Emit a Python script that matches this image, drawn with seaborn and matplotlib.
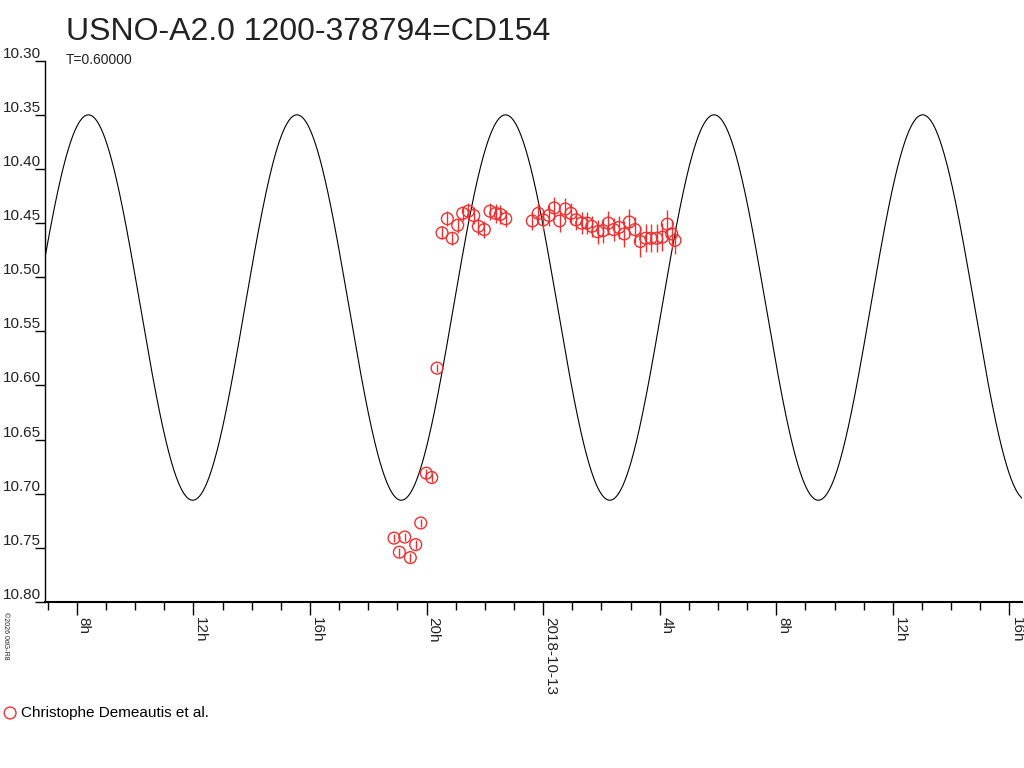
import numpy as np
import pandas as pd
import matplotlib
matplotlib.use("Agg")
import matplotlib.pyplot as plt
import seaborn as sns

# observations, hours relative to 2018-10-13 00:00
obs_hours = [-5.115, -4.933, -4.748, -4.556, -4.371, -4.199, -4.007, -3.822, -3.640,
             -3.468, -3.286, -3.115, -2.930, -2.758, -2.566, -2.381, -2.223, -2.017,
             -1.822, -1.626, -1.468, -1.283,
             -0.370, -0.165, 0.007, 0.202, 0.384, 0.569, 0.762, 0.957, 1.129, 1.324,
             1.506, 1.667, 1.873, 2.055, 2.237, 2.422, 2.604, 2.786, 2.957, 3.153,
             3.334, 3.520, 3.702, 3.897, 4.089, 4.261, 4.412, 4.525]
obs_mag = [10.741, 10.754, 10.740, 10.759, 10.747, 10.727, 10.681, 10.685, 10.584,
           10.459, 10.446, 10.464, 10.452, 10.441, 10.439, 10.443, 10.453, 10.456,
           10.439, 10.441, 10.442, 10.446,
           10.448, 10.441, 10.447, 10.443, 10.436, 10.448, 10.437, 10.441, 10.447, 10.450,
           10.450, 10.453, 10.458, 10.457, 10.450, 10.456, 10.454, 10.460, 10.449, 10.456,
           10.467, 10.464, 10.464, 10.464, 10.463, 10.451, 10.460, 10.466]
obs_err = [0.004, 0.004, 0.004, 0.004, 0.004, 0.004, 0.004, 0.004, 0.004,
           0.006, 0.007, 0.006, 0.007, 0.007, 0.008, 0.008, 0.008, 0.008,
           0.008, 0.009, 0.009, 0.008,
           0.008, 0.010, 0.009, 0.010, 0.010, 0.010, 0.010, 0.010, 0.009, 0.010,
           0.010, 0.010, 0.011, 0.011, 0.011, 0.011, 0.011, 0.012, 0.012, 0.012,
           0.014, 0.013, 0.013, 0.013, 0.013, 0.013, 0.013, 0.013]

# model light curve parameters
curve_mean = 10.528
curve_amp = 0.178
curve_period = 7.155      # hours
curve_tmax = -15.60       # hour of brightest point

x_range = (-17.09, 16.43)
x_major = [-16, -12, -8, -4, 0, 4, 8, 12, 16]
x_labels = ["8h", "12h", "16h", "20h", "2018-10-13", "4h", "8h", "12h", "16h"]
y_ticks = [10.30, 10.35, 10.40, 10.45, 10.50, 10.55, 10.60, 10.65, 10.70, 10.75, 10.80]

title = "USNO-A2.0 1200-378794=CD154"
subtitle = "T=0.60000"
observer = "Christophe Demeautis et al."

plt.rcParams["font.family"] = ["Liberation Sans", "DejaVu Sans"]

fig = plt.figure(figsize=(10.24, 7.68), dpi=100)
ax = fig.add_axes([45 / 1024, 166 / 768, 977 / 1024, 541.3 / 768])

t = np.linspace(x_range[0], x_range[1], 3000)
curve = pd.DataFrame({"t": t,
                      "mag": curve_mean - curve_amp * np.cos(2 * np.pi * (t - curve_tmax) / curve_period)})
sns.lineplot(data=curve, x="t", y="mag", color="black", linewidth=0.8,
             estimator=None, sort=False, ax=ax)

obs = pd.DataFrame({"t": obs_hours, "mag": obs_mag, "err": obs_err})
ax.errorbar(obs["t"], obs["mag"], yerr=obs["err"], fmt="none",
            ecolor="#f03030", elinewidth=1.0, capsize=0, zorder=3)
sns.scatterplot(data=obs, x="t", y="mag", marker="o", s=72, facecolors="none",
                edgecolor="#f03030", linewidth=1.0, label=observer, ax=ax, zorder=4)

ax.set_xlim(*x_range)
ax.set_ylim(10.80, 10.30)
ax.set_xlabel("")
ax.set_ylabel("")

ax.set_xticks(x_major)
ax.set_xticklabels(x_labels, rotation=-90, ha="left", va="top", fontsize=11, color="#222222")
ax.set_xticks(np.arange(-17, 17, 1), minor=True)
ax.tick_params(axis="x", which="major", length=9, width=1, pad=2, direction="out")
ax.tick_params(axis="x", which="minor", length=6, width=1, direction="out")

ax.set_yticks(y_ticks)
ax.set_yticklabels([f"{v:.2f}" for v in y_ticks], fontsize=11, va="bottom", color="#222222")
ax.tick_params(axis="y", length=7, width=1, pad=-4, direction="out")

for side in ["top", "right"]:
    ax.spines[side].set_visible(False)
ax.spines["left"].set_linewidth(1.0)
ax.spines["bottom"].set_linewidth(1.5)

fig.text(66 / 1024, 1 - 40 / 768, title, fontsize=23, color="#222222")
fig.text(66 / 1024, 1 - 64 / 768, subtitle, fontsize=10, color="#222222")
fig.text(2 / 1024, 1 - 612 / 768, "\u00a92026 0dG-R8", fontsize=5, rotation=-90,
         ha="left", va="top", color="#222222")

ax.legend(loc="center left", bbox_to_anchor=(4 / 1024, 1 - 713 / 768),
          bbox_transform=fig.transFigure, frameon=False, fontsize=11,
          handlelength=0.8, handletextpad=0.3, borderaxespad=0, borderpad=0)

fig.savefig("out.png", dpi=100)
